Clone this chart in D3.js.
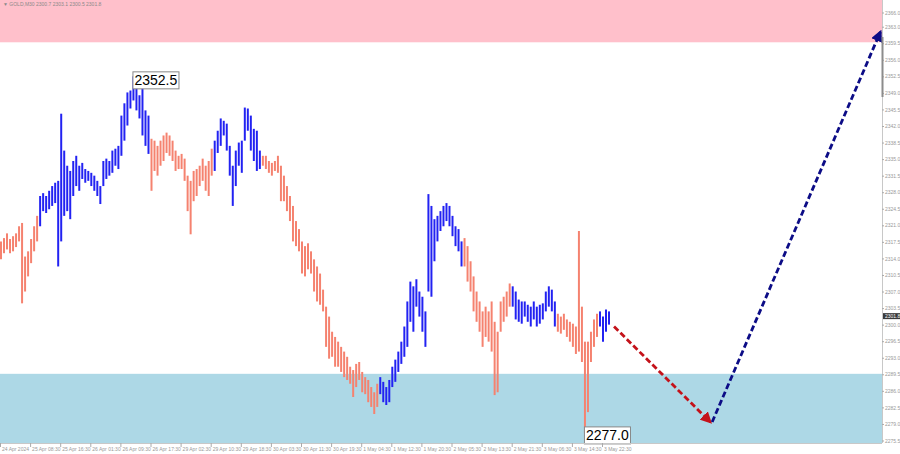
<!DOCTYPE html>
<html><head><meta charset="utf-8">
<script src="https://cdn.jsdelivr.net/npm/d3@7"></script>
<style>
html,body{margin:0;padding:0;background:#fff;}
svg{display:block;font-family:"Liberation Sans",Arial,sans-serif;}
</style></head>
<body><svg id="chart" width="900" height="454"></svg>
<script>
// ---- data ----
const symbolHeader = "\u25BC GOLD,M30  2300.7 2303.1 2300.5 2301.8";
const timeLabels = ["24 Apr 2024","25 Apr 08:30","25 Apr 16:30","26 Apr 01:30","26 Apr 09:30","26 Apr 17:30","29 Apr 02:30","29 Apr 10:30","29 Apr 18:30","30 Apr 03:30","30 Apr 11:30","30 Apr 19:30","1 May 04:30","1 May 12:30","1 May 20:30","2 May 05:30","2 May 13:30","2 May 21:30","3 May 06:30","3 May 14:30","3 May 22:30"];
const timeLabelStep = 10; // bars between time labels
const priceTicks = [2275.5,2279.0,2282.5,2286.0,2289.5,2293.0,2296.5,2300.0,2303.5,2307.0,2310.5,2314.0,2317.5,2321.0,2324.5,2328.0,2331.5,2335.0,2338.5,2342.0,2345.5,2349.0,2352.5,2356.0,2359.5,2363.0,2366.0];
const barHigh = [2317.6,2318.3,2319.3,2318.1,2318.7,2319.3,2320.8,2321.5,2314.4,2315.5,2318.1,2320.8,2323.0,2327.2,2327.8,2327.2,2328.3,2329.3,2330.0,2330.4,
2344.6,2336.8,2333.6,2332.5,2334.6,2335.7,2333.6,2334.2,2332.9,2332.5,2332.1,2331.5,2330.4,2329.3,2334.6,2335.1,2334.6,2336.8,2337.2,2337.8,
2344.2,2346.8,2349.1,2349.5,2352.5,2350.0,2348.5,2351.0,2345.3,2344.2,2339.3,2338.9,2337.8,2338.9,2340.0,2340.6,2340.0,2338.9,2336.8,2335.7,
2336.1,2335.1,2331.5,2330.4,2332.5,2332.9,2333.6,2335.1,2333.6,2334.6,2337.2,2338.9,2341.0,2343.6,2343.1,2342.5,2337.8,2333.6,2336.8,2338.5,
2338.9,2345.9,2345.7,2344.2,2341.4,2341.0,2336.8,2335.7,2335.7,2334.6,2334.2,2334.6,2335.7,2333.6,2331.5,2329.3,2327.2,2325.1,2321.9,2320.2,
2317.6,2316.6,2317.2,2315.5,2313.8,2312.3,2310.8,2307.4,2303.8,2301.7,2298.5,2297.4,2296.4,2295.3,2294.3,2293.2,2291.1,2290.4,2291.7,2292.1,
2290.0,2288.9,2288.3,2286.8,2285.7,2287.5,2288.9,2287.9,2286.8,2288.3,2291.1,2292.6,2294.3,2296.4,2299.6,2304.9,2309.1,2308.1,2309.6,2307.0,
2305.9,2302.8,2327.6,2325.1,2322.3,2323.0,2324.0,2325.1,2325.7,2325.1,2323.0,2320.8,2320.2,2317.6,2318.3,2316.6,2313.4,2310.2,2307.0,2304.9,
2302.8,2303.8,2302.8,2304.9,2300.6,2298.5,2304.9,2305.9,2307.0,2308.7,2308.1,2307.0,2305.3,2304.9,2304.9,2304.2,2303.8,2304.9,2303.8,2304.2,
2304.5,2307.0,2308.1,2307.4,2304.9,2302.3,2301.7,2302.3,2301.1,2300.6,2300.2,2299.6,2319.8,2303.8,2296.4,2296.4,2298.5,2301.1,2302.3,2302.8,
2301.7,2303.2,2302.8];
const barLow = [2313.8,2315.1,2315.9,2315.1,2315.5,2316.4,2317.6,2304.5,2307.0,2310.2,2313.0,2315.5,2317.6,2320.8,2324.0,2323.6,2324.4,2325.1,2325.7,2312.3,
2317.6,2323.0,2324.0,2322.3,2327.2,2329.3,2328.3,2330.8,2330.0,2330.4,2329.3,2328.3,2327.2,2325.5,2329.3,2330.8,2331.5,2332.1,2333.6,2332.9,
2335.7,2338.9,2342.1,2345.7,2347.4,2345.3,2343.6,2340.0,2337.8,2336.1,2328.3,2332.5,2331.5,2333.6,2334.6,2336.3,2335.7,2334.6,2332.5,2332.9,
2332.9,2330.4,2324.0,2319.1,2326.1,2327.2,2329.3,2330.4,2328.3,2327.2,2331.5,2332.5,2336.3,2337.8,2340.0,2336.8,2331.5,2325.1,2329.3,2333.6,
2332.1,2338.9,2341.0,2336.8,2334.6,2332.5,2332.9,2333.6,2332.9,2332.1,2331.5,2332.5,2332.1,2326.1,2326.1,2324.0,2321.9,2317.6,2316.6,2315.5,
2310.8,2310.2,2311.7,2310.8,2307.0,2304.9,2304.2,2302.8,2295.3,2292.8,2293.2,2291.1,2291.1,2290.0,2288.9,2288.3,2287.5,2284.7,2286.8,2288.3,
2285.7,2285.3,2283.6,2282.6,2281.1,2282.6,2285.3,2283.6,2283.0,2283.6,2286.8,2287.9,2290.0,2291.7,2293.2,2295.3,2300.6,2298.5,2303.8,2301.7,
2298.5,2295.3,2307.0,2305.9,2313.4,2317.6,2319.8,2320.8,2321.9,2320.8,2318.7,2316.6,2315.5,2312.3,2312.3,2309.1,2307.0,2302.8,2300.6,2298.5,
2295.3,2297.4,2296.4,2294.3,2285.1,2285.7,2298.5,2300.6,2301.7,2303.8,2303.8,2301.1,2300.6,2300.2,2301.7,2300.6,2299.6,2301.1,2299.6,2300.2,
2301.1,2302.8,2303.8,2302.8,2299.6,2298.5,2298.1,2298.9,2297.4,2296.4,2295.3,2293.8,2294.3,2292.1,2277.0,2281.5,2292.1,2295.3,2297.4,2299.6,
2296.4,2298.5,2300.0];
// wave segments: first bar index of each wave and its direction
const waveStart = [0,13,50,71,87,126,154,170,185,199];
const waveDir   = ["down","up","down","up","down","up","down","up","down","up"];
const resistanceZone = [2359.7, 2372];
const supportZone = [2270, 2289.6];
const lastPrice = 2301.8;
const peakLabel = {index:44, value:2352.5};
const troughLabel = {index:194, value:2277.0};
const forecastDown = [{i:204, v:2299.6},{i:236, v:2279.4}];
const forecastUp   = [{i:236.6, v:2279.4},{i:292.5, v:2361.9}];

// ---- layout ----
const W = 900, H = 454;
const plotRight = 882, plotBottom = 443;
const svg = d3.select("#chart");
const x = d3.scaleLinear().domain([0, 200]).range([0, 602]);
const y = d3.scaleLinear().domain([2275.5, 2366]).range([440.5, 12.5]);
const colorOf = {up:"#2222f2", down:"#f5826f"};

svg.append("defs").append("clipPath").attr("id","plotclip")
  .append("rect").attr("x",0).attr("y",0).attr("width",plotRight).attr("height",plotBottom);
const plot = svg.append("g").attr("clip-path","url(#plotclip)");

// zones
plot.append("rect").attr("x",0).attr("width",plotRight)
  .attr("y", y(resistanceZone[1])).attr("height", y(resistanceZone[0]) - y(resistanceZone[1]))
  .attr("fill","#ffc0cb");
plot.append("rect").attr("x",0).attr("width",plotRight)
  .attr("y", y(supportZone[1])).attr("height", y(supportZone[0]) - y(supportZone[1]))
  .attr("fill","#add8e6");

// header
svg.append("text").attr("x",3).attr("y",6).attr("font-size",5).attr("fill","#8a8a8a").text(symbolHeader);

// bars
function dirOf(i){ let d = waveDir[0]; for(let k=0;k<waveStart.length;k++){ if(i>=waveStart[k]) d = waveDir[k]; } return d; }
const bars = barHigh.map((h,i)=>({i, h, l:barLow[i], d:dirOf(i)}));
plot.append("g").selectAll("line").data(bars).join("line")
  .attr("x1", d=>x(d.i)+1).attr("x2", d=>x(d.i)+1)
  .attr("y1", d=>y(d.h)).attr("y2", d=>y(d.l))
  .attr("stroke", d=>colorOf[d.d]).attr("stroke-width",2);

// forecast arrows
const defs = svg.select("defs");
function marker(id, color){
  defs.append("marker").attr("id",id).attr("viewBox","0 0 10 10").attr("refX",8).attr("refY",5)
    .attr("markerWidth",4.2).attr("markerHeight",4.2).attr("orient","auto").attr("markerUnits","strokeWidth")
    .append("path").attr("d","M0,0 L10,5 L0,10 Z").attr("fill",color);
}
marker("arrRed","#c4121a"); marker("arrBlue","#0c0c86");
svg.append("line").attr("x1",x(forecastDown[0].i)).attr("y1",y(forecastDown[0].v))
  .attr("x2",x(forecastDown[1].i)).attr("y2",y(forecastDown[1].v))
  .attr("stroke","#c4121a").attr("stroke-width",2.8).attr("stroke-dasharray","6,3").attr("marker-end","url(#arrRed)");
svg.append("line").attr("x1",x(forecastUp[0].i)).attr("y1",y(forecastUp[0].v))
  .attr("x2",x(forecastUp[1].i)).attr("y2",y(forecastUp[1].v))
  .attr("stroke","#0c0c86").attr("stroke-width",2.8).attr("stroke-dasharray","6,3").attr("marker-end","url(#arrBlue)");

// price labels
function priceBox(lbl, yOff){
  const g = svg.append("g");
  const t = g.append("text").attr("x", x(lbl.index)+2).attr("y", y(lbl.value)+yOff)
    .attr("font-size",14).attr("fill","#000").attr("dominant-baseline","central").text(lbl.value.toFixed(1));
  const bb = t.node().getBBox();
  g.insert("rect","text").attr("x",bb.x-1.5).attr("y",bb.y-0.5).attr("width",bb.width+3).attr("height",bb.height+1)
    .attr("fill","#fff").attr("stroke","#888").attr("stroke-width",1);
}
priceBox(peakLabel, 4);
priceBox(troughLabel, 2);

// right axis
const yAxis = d3.axisRight(y).tickValues(priceTicks).tickFormat(d3.format(".1f")).tickSize(2).tickPadding(1);
const ya = svg.append("g").attr("transform",`translate(${plotRight},0)`).call(yAxis);
ya.select(".domain").attr("stroke","#c8c8c8").attr("d",`M0.5,0V${plotBottom}`);
ya.selectAll(".tick line").attr("stroke","#aaa");
ya.selectAll(".tick text").attr("font-size",5).attr("fill","#999").attr("font-family","Liberation Sans, Arial");
svg.append("rect").attr("x",plotRight-0.5).attr("y",37).attr("width",2).attr("height",60).attr("fill","#8c8c8c");
// last price marker
const lp = svg.append("g");
lp.append("rect").attr("x",plotRight+1).attr("y",y(lastPrice)-3).attr("width",W-plotRight-1).attr("height",6).attr("fill","#3a3a3a");
lp.append("text").attr("x",plotRight+3).attr("y",y(lastPrice)).attr("dominant-baseline","central")
  .attr("font-size",5).attr("fill","#fff").text(lastPrice.toFixed(1));

// bottom axis
const xAxis = d3.axisBottom(x).tickValues(timeLabels.map((_,k)=>k*timeLabelStep))
  .tickFormat((d,k)=>timeLabels[k]).tickSize(4).tickPadding(1);
const xa = svg.append("g").attr("transform",`translate(0,${plotBottom})`).call(xAxis);
xa.select(".domain").attr("stroke","#c8c8c8").attr("d",`M0,0.5H${plotRight}`);
xa.selectAll(".tick line").attr("stroke","#aaa");
xa.selectAll(".tick text").attr("font-size",5).attr("fill","#999").attr("text-anchor","start")
  .attr("dx",1.5).attr("y",4).attr("font-family","Liberation Sans, Arial");
</script></body></html>
